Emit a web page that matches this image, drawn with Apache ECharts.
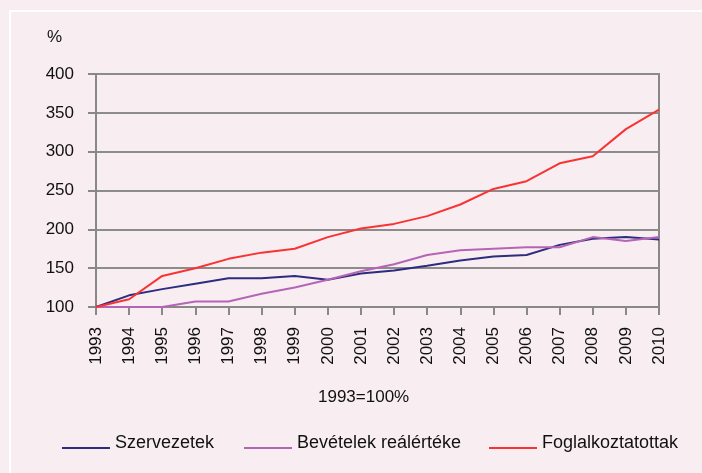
<!DOCTYPE html>
<html>
<head>
<meta charset="utf-8">
<script src="https://cdn.jsdelivr.net/npm/echarts@6/dist/echarts.min.js"></script>
<style>
html,body{margin:0;padding:0;background:#f8edf1;}
#c{width:702px;height:473px;}
</style>
</head>
<body>
<div id="c"></div>
<script>
const years = ['1993','1994','1995','1996','1997','1998','1999','2000','2001','2002','2003','2004','2005','2006','2007','2008','2009','2010'];
const szervezetek = [100,115,123,130,137,137,140,135,143,147,153,160,165,167,180,188,190,187];
const bevetelek = [100,100,100,107,107,117,125,135,146,155,167,173,175,177,177,190,185,190];
const foglalkoztatottak = [100,110,140,150,162,170,175,190,201,207,217,232,252,262,285,294,329,354];
const yTicks = [100,150,200,250,300,350,400];
const seriesNames = ['Szervezetek','Bevételek reálértéke','Foglalkoztatottak'];
const colors = ['#2d2c7f','#b565b5','#f93333'];

const reg = '"Liberation Sans", Arial, sans-serif';
const chart = echarts.init(document.getElementById('c'), null, {renderer:'canvas'});
const legendLefts = [62, 244, 489];
chart.setOption({
  backgroundColor: '#f8edf1',
  animation: false,
  graphic: [
    {type:'rect', shape:{x:9, y:10, width:2, height:463}, style:{fill:'#ffffff'}, silent:true},
    {type:'rect', shape:{x:9, y:10, width:693, height:2}, style:{fill:'#ffffff'}, silent:true}
  ],
  title: [
    {text:'%', left:47, top:29, padding:0, textStyle:{fontFamily:reg, fontSize:17, fontWeight:'normal', color:'#111'}},
    {text:'1993=100%', left:318, top:389, padding:0, textStyle:{fontFamily:reg, fontSize:17, fontWeight:'normal', color:'#111'}}
  ],
  legend: seriesNames.map((n,i)=>({
    data:[n], left:legendLefts[i], top:434, padding:0,
    icon:'path://M0,10L48,10L48,12L0,12Z M0,0L0.01,0Z', itemWidth:48, itemHeight:12,
    textStyle:{fontFamily:reg, fontSize:18, color:'#111'}
  })),
  grid: {left:96, right:43, top:74, bottom:166, show:true, borderColor:'#888', borderWidth:2, backgroundColor:'transparent'},
  xAxis: {
    type:'category', data:years, boundaryGap:false,
    axisLine:{lineStyle:{color:'#888', width:2}},
    axisTick:{show:true, length:8, lineStyle:{color:'#888', width:2}},
    axisLabel:{rotate:90, margin:20, fontFamily:reg, fontSize:17, color:'#111', interval:0}
  },
  yAxis: {
    type:'value', min:yTicks[0], max:yTicks[yTicks.length-1], interval:50,
    axisLine:{show:true, lineStyle:{color:'#888', width:2}},
    axisTick:{show:true, length:8, lineStyle:{color:'#888', width:2}},
    splitLine:{show:true, lineStyle:{color:'#8c8c8c', width:2}},
    axisLabel:{margin:22, fontFamily:reg, fontSize:17, color:'#111'}
  },
  series: [
    {name:seriesNames[0], type:'line', data:szervezetek, symbol:'none', lineStyle:{color:colors[0], width:2}, itemStyle:{color:colors[0]}},
    {name:seriesNames[1], type:'line', data:bevetelek, symbol:'none', lineStyle:{color:colors[1], width:2}, itemStyle:{color:colors[1]}},
    {name:seriesNames[2], type:'line', data:foglalkoztatottak, symbol:'none', lineStyle:{color:colors[2], width:2}, itemStyle:{color:colors[2]}}
  ]
});
</script>
</body>
</html>
